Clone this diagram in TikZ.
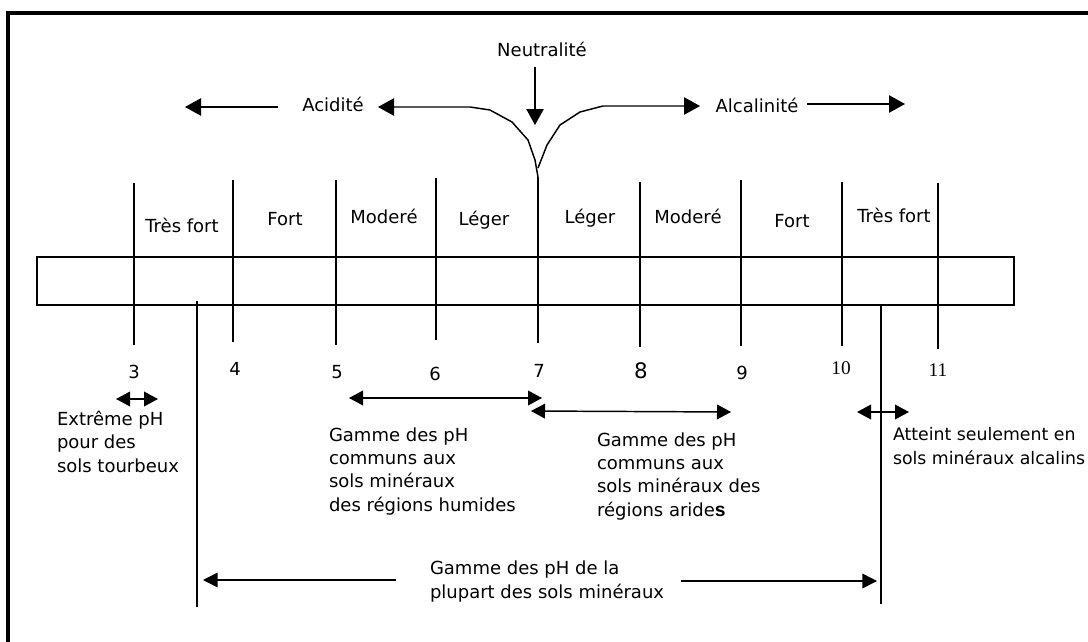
\documentclass[tikz,border=0pt]{standalone}
\usepackage{fontspec}
\setmainfont{DejaVu Sans}
\newfontfamily\numserif{Liberation Serif}
\newfontfamily\altsans{Liberation Sans}
\usetikzlibrary{arrows.meta}

\begin{document}
\begin{tikzpicture}[x=0.75pt,y=-0.75pt,
  lbl/.style={inner sep=0pt, outer sep=0pt, font=\fontsize{13.5pt}{17.5pt}\selectfont},
  % multi-line blocks: anchored at the baseline of their last line
  para/.style={lbl, align=left, anchor=base west},
  heavytick/.style={line width=1.5pt},
  lighttick/.style={line width=1.1pt},
  conn/.style={line width=1.1pt, line join=round},
  bigtip/.style={conn, -{Triangle[length=12pt,width=13pt]}},
  bothtips/.style={conn, {Triangle[length=10.5pt,width=11pt]}-{Triangle[length=10.5pt,width=11pt]}},
  endtip/.style={conn, -{Triangle[length=11pt,width=11pt]}},
]
\useasboundingbox (0,0) rectangle (1088,642);
\fill[white] (0,0) rectangle (1088,642);

% outer frame (top and left edges)
\draw[line width=3pt, line join=miter] (8,642) -- (8,13.5) -- (1088,13.5);

% the pH bar
\node[draw, line width=1.1pt, inner sep=0pt, outer sep=0pt,
      minimum width=732.75pt, minimum height=36pt] (bar) at (525.5,281) {};

% scale ticks with their values
\foreach \v/\x/\t/\b/\s in {3/134/183/345/lighttick, 4/233/180/342/heavytick,
    5/336/180/345/heavytick, 6/436/178/340/heavytick, 7/538/177/343/heavytick,
    8/640/182/347/lighttick, 9/741/180/346/lighttick, 10/842/182/346/lighttick,
    11/938/183/349/heavytick}{
  \coordinate (t\v top) at (\x,\t);
  \coordinate (t\v bot) at (\x,\b);
  \draw[\s] (t\v top) -- (t\v bot);
}
\node[lbl, anchor=base] (n3) at (134,378) {3};
\node[lbl, anchor=base] (n4) at (235,375) {4};
\node[lbl, anchor=base] (n5) at (337,378) {5};
\node[lbl, anchor=base] (n6) at (435,380) {6};
\node[lbl, anchor=base] (n7) at (539,377) {7};
\node[lbl, anchor=base, font=\fontsize{16pt}{18pt}\selectfont] (n8) at (641,378) {8};
\node[lbl, anchor=base] (n9) at (742,379) {9};
\node[lbl, anchor=base, font=\numserif\fontsize{14.5pt}{16pt}\selectfont] (n10) at (841,374) {10};
\node[lbl, anchor=base, font=\numserif\fontsize{14.5pt}{16pt}\selectfont] (n11) at (938,376) {11};

% strength of acidity / alkalinity between the ticks
\node[lbl, anchor=base] (s1) at (182,232) {Très fort};
\node[lbl, anchor=base] (s2) at (285,225) {Fort};
\node[lbl, anchor=base] (s3) at (384,223) {Moderé};
\node[lbl, anchor=base] (s4) at (484,225) {Léger};
\node[lbl, anchor=base] (s5) at (590,223) {Léger};
\node[lbl, anchor=base] (s6) at (688,223) {Moderé};
\node[lbl, anchor=base] (s7) at (792,227) {Fort};
\node[lbl, anchor=base] (s8) at (894,222) {Très fort};

% neutrality, acidity and alkalinity
\node[lbl, anchor=base] (neutre) at (542,57) {Neutralité};
\node[lbl, anchor=base] (acide) at (333,112) {Acidité};
\node[lbl, anchor=base] (alcalin) at (757,113) {Alcalinité};

\coordinate (neuA) at (535,67);
\coordinate (neuB) at (535,125);
\draw[bigtip] (neuA) -- (neuB);

\coordinate (acA) at (278,107);
\coordinate (acB) at (185,107);
\draw[bigtip] (acA) -- (acB);

\coordinate (alA) at (807,104);
\coordinate (alB) at (905,104);
\draw[bigtip] (alA) -- (alB);

\coordinate (vL) at (378,107);
\coordinate (vR) at (700,106);
\draw[bigtip] (t7top) -- (535,160) -- (528,140) -- (512,122) -- (490,110) -- (470,107) -- (vL);
\draw[bigtip] (538,168) -- (547,145) -- (560,125) -- (580,112) -- (603,106) -- (vR);

% ranges below the scale
\coordinate (r1a) at (116,399);  \coordinate (r1b) at (158,399);
\draw[bothtips] (r1a) -- (r1b);
\node[para] (tourbe) at (57,472) {Extrême pH\\pour des\\sols tourbeux};

\coordinate (r2a) at (349,398);  \coordinate (r2b) at (542,398);
\draw[bothtips] (r2a) -- (r2b);
\node[para] (humide) at (329,511) {Gamme des pH\\communs aux\\sols minéraux\\des régions humides};

\coordinate (r3a) at (531,411);  \coordinate (r3b) at (731,412);
\draw[bothtips] (r3a) -- (r3b);
\node[para] (aride) at (597,516) {Gamme des pH\\communs aux\\sols minéraux des\\régions aride{\altsans\bfseries\fontsize{14.5pt}{17.5pt}\selectfont s}};

\coordinate (r4a) at (857,412);  \coordinate (r4b) at (909,412);
\draw[bothtips] (r4a) -- (r4b);
\node[para, font=\fontsize{13pt}{17.5pt}\selectfont] (alcalins) at (893,464) {Atteint seulement en\\sols minéraux alcalins};

% range of most mineral soils
\coordinate (mL top) at (197,301);  \coordinate (mL bot) at (197,607);
\coordinate (mR top) at (881,306);  \coordinate (mR bot) at (881,604);
\draw[lighttick] (mL top) -- (mL bot);
\draw[lighttick] (mR top) -- (mR bot);
\node[para] (plupart) at (430,598) {Gamme des pH de la\\plupart des sols minéraux};
\coordinate (mA) at (396,580);  \coordinate (mB) at (203,580);
\coordinate (mC) at (681,581);  \coordinate (mD) at (877,581);
\draw[endtip] (mA) -- (mB);
\draw[endtip] (mC) -- (mD);
\end{tikzpicture}
\end{document}
